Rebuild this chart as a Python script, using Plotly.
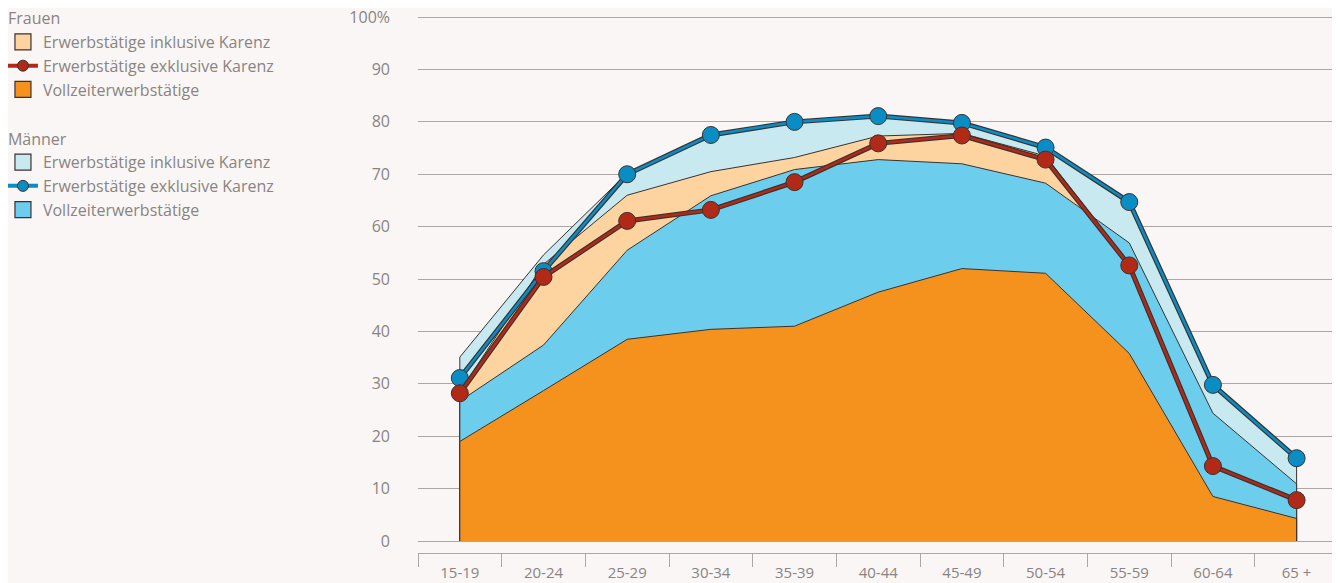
import plotly.graph_objects as go

# Altersgruppen
altersgruppen = ["15-19", "20-24", "25-29", "30-34", "35-39", "40-44",
                 "45-49", "50-54", "55-59", "60-64", "65 +"]

# Frauen (%)
frauen_inkl = [28.5, 52.8, 66.0, 70.5, 73.2, 77.3, 77.8, 73.5, 53.0, 15.0, 8.2]
frauen_exkl = [28.2, 50.4, 61.1, 63.2, 68.5, 75.9, 77.4, 72.8, 52.6, 14.3, 7.8]
frauen_voll = [19.0, 28.7, 38.5, 40.4, 41.0, 47.5, 52.0, 51.1, 35.8, 8.5, 4.3]

# Männer (%)
maenner_inkl = [35.1, 54.6, 70.2, 77.7, 80.2, 81.3, 79.9, 75.3, 64.8, 30.0, 16.0]
maenner_exkl = [31.1, 51.5, 70.0, 77.5, 80.0, 81.1, 79.8, 75.1, 64.7, 29.8, 15.8]
maenner_voll = [26.7, 37.4, 55.5, 65.9, 70.9, 72.8, 72.0, 68.3, 56.9, 24.4, 10.9]

y_ticks = [0, 10, 20, 30, 40, 50, 60, 70, 80, 90, 100]
y_ticktext = ["0", "10", "20", "30", "40", "50", "60", "70", "80", "90", "100%"]

BG = "#f9f6f5"
TEXT = "#8a8482"
GRID = "#aca6a4"
OUTLINE = "#3a3230"
FONT = "Open Sans"

C_PEACH = "#fdd3a0"
C_ORANGE = "#f5921e"
C_LIGHTBLUE = "#c8e9f0"
C_BLUE = "#6dcdec"
C_RED = "#b02a17"
C_DARKBLUE = "#0a8dc4"

xs = list(range(len(altersgruppen)))
X_MAX = xs[-1] + 0.447  # letzte Kategorie ist am rechten Rand abgeschnitten


def polygon(values):
    # geschlossene Fläche bis zur Nulllinie, damit die Kontur ringsum gezeichnet wird
    px = [xs[0]] + xs + [xs[-1]]
    py = [0] + list(values) + [0]
    return px, py


fig = go.Figure()

# Flächen (hinten -> vorne)
for vals, col in [(maenner_inkl, C_LIGHTBLUE), (frauen_inkl, C_PEACH),
                  (maenner_voll, C_BLUE), (frauen_voll, C_ORANGE)]:
    px, py = polygon(vals)
    fig.add_trace(go.Scatter(
        x=px, y=py, mode="lines", fill="toself", fillcolor=col,
        line=dict(color=OUTLINE, width=1), showlegend=False, hoverinfo="skip"
    ))

# Linien mit Punkten (Männer zuerst, Frauen oben drauf)
for vals, col in [(maenner_exkl, C_DARKBLUE), (frauen_exkl, C_RED)]:
    fig.add_trace(go.Scatter(
        x=xs, y=vals, mode="lines", line=dict(color=OUTLINE, width=5),
        showlegend=False, hoverinfo="skip"
    ))
    fig.add_trace(go.Scatter(
        x=xs, y=vals, mode="lines+markers", line=dict(color=col, width=2.6),
        marker=dict(size=17, color=col, line=dict(color=OUTLINE, width=1)),
        showlegend=False
    ))

# Legende
legend_items = [
    ("Frauen", "Erwerbstätige inklusive Karenz", "box", C_PEACH),
    ("Frauen", "Erwerbstätige exklusive Karenz", "line", C_RED),
    ("Frauen", "Vollzeiterwerbstätige", "box", C_ORANGE),
    ("Männer", "Erwerbstätige inklusive Karenz", "box", C_LIGHTBLUE),
    ("Männer", "Erwerbstätige exklusive Karenz", "line", C_DARKBLUE),
    ("Männer", "Vollzeiterwerbstätige", "box", C_BLUE),
]
for grp, name, kind, col in legend_items:
    if kind == "box":
        fig.add_trace(go.Scatter(
            x=[None], y=[None], mode="markers", name=name, legendgroup=grp,
            legendgrouptitle=dict(text=grp),
            marker=dict(symbol="square", size=18, color=col,
                        line=dict(color=OUTLINE, width=1.2))
        ))
    else:
        fig.add_trace(go.Scatter(
            x=[None], y=[None], mode="lines+markers", name=name, legendgroup=grp,
            legendgrouptitle=dict(text=grp),
            line=dict(color=col, width=4),
            marker=dict(size=11, color=col, line=dict(color=OUTLINE, width=1))
        ))

# Seite hat 8px Rand -> Figur etwas kleiner
fig.update_layout(
    width=1332, height=575,
    paper_bgcolor=BG, plot_bgcolor=BG,
    margin=dict(l=410, r=6, t=7, b=30, autoexpand=False),
    font=dict(family=FONT, size=16, color=TEXT),
    legend=dict(
        x=-0.4531, xanchor="left", y=1.0257, yanchor="top",
        bgcolor="rgba(0,0,0,0)", traceorder="grouped",
        tracegroupgap=25, font=dict(family=FONT, size=16, color=TEXT),
        grouptitlefont=dict(family=FONT, size=16, color=TEXT),
        itemsizing="trace",
    ),
    xaxis=dict(
        range=[-0.5, X_MAX], tickmode="array", tickvals=xs, ticktext=altersgruppen,
        ticks="", showgrid=False, zeroline=False, ticklabelstandoff=6,
        ticklabeloverflow="allow",
        showline=True, linecolor=GRID, linewidth=1.2,
        minor=dict(tickmode="array", tickvals=[x - 0.5 for x in xs] + [X_MAX - 0.001],
                   ticks="outside", ticklen=13, tickcolor=GRID, tickwidth=1.2,
                   showgrid=False),
        tickfont=dict(family=FONT, size=15, color=TEXT),
    ),
    yaxis=dict(
        range=[-2.29, 100.4], tickmode="array", tickvals=y_ticks, ticktext=y_ticktext,
        showgrid=True, gridcolor=GRID, gridwidth=1.3, zeroline=False,
        showline=False, ticks="", ticklabelstandoff=27,
        ticklabeloverflow="allow",
        tickfont=dict(family=FONT, size=16, color=TEXT),
    ),
)

fig.write_html("out.html")
